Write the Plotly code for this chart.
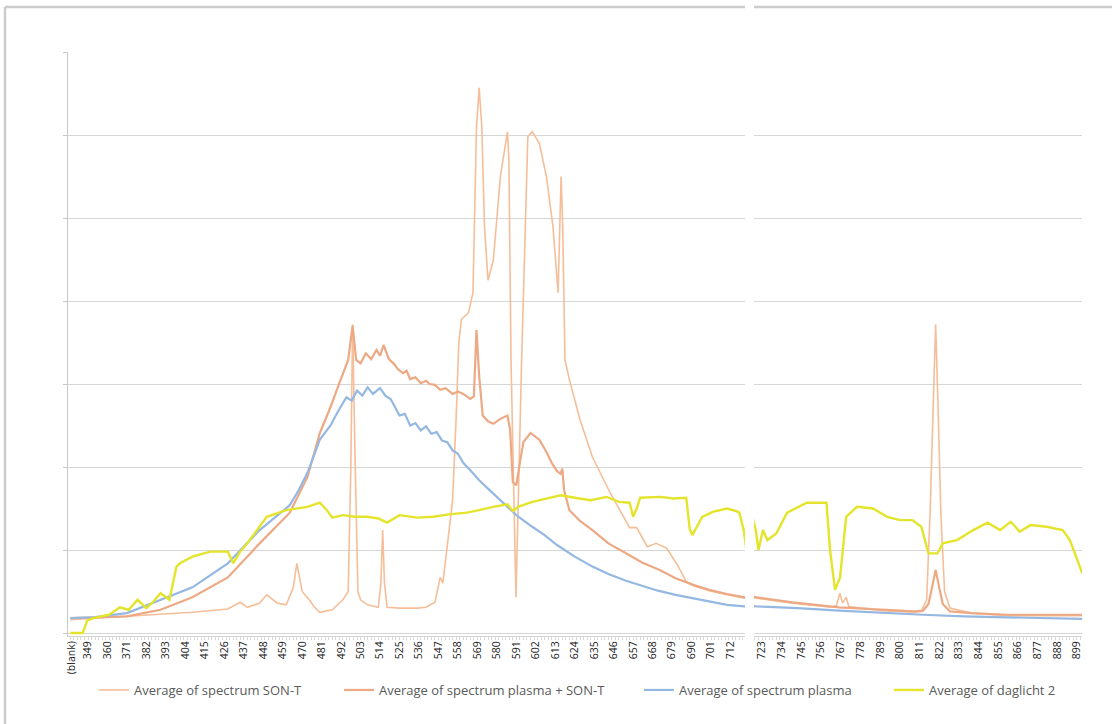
import plotly.graph_objects as go

# ---------------- data ----------------
son_t_wl = [339, 371, 408, 428, 435, 439, 446, 450, 456, 461, 465, 467, 470, 474, 477, 480, 487, 493, 496,
            497.5, 498.5, 500, 501.5, 503, 507, 513, 514.5, 515.5, 516.5, 518, 525, 535, 540, 545, 548, 549.5,
            551, 553, 555, 557, 558.5, 560, 564, 566.5, 568.5, 570, 571.5, 573, 575, 578, 582, 586, 586.8,
            588, 589.5, 590.8, 592, 594, 597.5, 600, 604, 608, 611.7, 614.6, 616.3, 617.2, 618.5, 621, 627,
            634, 644, 653.5, 655, 659, 665, 670, 676, 682, 687, 691, 700, 710, 720, 740, 762, 764.5, 766.5,
            768, 770, 771.5, 790, 808, 812, 815, 817, 819, 820, 821, 823, 825, 828, 840, 860, 880, 902]
son_t_val = [0.16, 0.20, 0.25, 0.29, 0.37, 0.31, 0.36, 0.46, 0.36, 0.34, 0.55, 0.84, 0.50, 0.40, 0.31, 0.25,
             0.28, 0.40, 0.50, 2.0, 3.72, 2.0, 0.50, 0.40, 0.34, 0.31, 0.6, 1.24, 0.6, 0.31, 0.30, 0.30, 0.31,
             0.37, 0.67, 0.60, 0.88, 1.2, 1.6, 2.6, 3.5, 3.78, 3.86, 4.1, 6.1, 6.57, 6.1, 4.9, 4.25, 4.49, 5.5,
             6.04, 5.7, 3.29, 1.5, 0.43, 1.5, 3.29, 5.98, 6.04, 5.9, 5.5, 4.9, 4.1, 5.5, 4.9, 3.29, 3.05, 2.57,
             2.12, 1.69, 1.33, 1.27, 1.27, 1.04, 1.08, 1.02, 0.82, 0.62, 0.57, 0.51, 0.46, 0.42, 0.36, 0.31,
             0.33, 0.48, 0.36, 0.43, 0.32, 0.27, 0.25, 0.26, 0.40, 1.5, 3.0, 3.72, 3.0, 1.4, 0.5, 0.30, 0.24,
             0.21, 0.21, 0.21]

mix_wl = [339, 371, 390, 408, 428, 446, 463, 473, 480, 486, 491, 496, 498.5, 500.5, 503, 506, 509, 512, 514,
          516, 519, 522, 524, 527, 529, 531, 534, 537, 540, 542, 545, 548, 551, 555, 558, 561, 565, 567,
          568.5, 570, 572, 575, 578, 582, 586, 587.5, 589, 591, 593, 595, 599, 604, 608, 611, 614, 616, 617,
          618, 621, 627, 634, 643, 653, 662, 672, 681, 691, 700, 710, 720, 740, 766, 790, 808, 813, 816, 818,
          820, 822, 824, 828, 840, 860, 880, 902]
mix_val = [0.18, 0.20, 0.28, 0.43, 0.67, 1.08, 1.45, 1.88, 2.41, 2.72, 3.01, 3.29, 3.70, 3.29, 3.25, 3.37,
           3.30, 3.41, 3.34, 3.47, 3.30, 3.24, 3.18, 3.13, 3.16, 3.06, 3.08, 3.01, 3.04, 3.00, 2.99, 2.93,
           2.95, 2.88, 2.91, 2.88, 2.82, 2.85, 3.65, 3.10, 2.62, 2.55, 2.52, 2.58, 2.62, 2.45, 1.82, 1.78,
           2.05, 2.30, 2.41, 2.33, 2.18, 2.05, 1.95, 1.92, 1.98, 1.72, 1.48, 1.35, 1.24, 1.08, 0.96, 0.85,
           0.76, 0.66, 0.58, 0.52, 0.47, 0.43, 0.37, 0.31, 0.28, 0.26, 0.27, 0.35, 0.55, 0.76, 0.55, 0.35,
           0.26, 0.24, 0.22, 0.22, 0.22]

plasma_wl = [339, 352, 371, 390, 408, 428, 446, 463, 468, 473, 480, 486, 490, 495, 498, 501, 504, 507, 510,
             514, 517, 520, 523, 525, 528, 531, 534, 537, 540, 543, 546, 549, 552, 555, 558, 561, 565, 570,
             575, 580, 585, 591, 600, 607, 614, 624, 634, 643, 653, 662, 671, 681, 691, 700, 710, 720, 743,
             766, 790, 813, 836, 860, 880, 902]
plasma_val = [0.18, 0.19, 0.24, 0.40, 0.55, 0.84, 1.24, 1.54, 1.72, 1.93, 2.33, 2.50, 2.66, 2.84, 2.80, 2.92,
              2.86, 2.96, 2.88, 2.95, 2.86, 2.82, 2.70, 2.62, 2.64, 2.50, 2.53, 2.44, 2.49, 2.40, 2.42, 2.32,
              2.30, 2.20, 2.16, 2.05, 1.96, 1.84, 1.74, 1.64, 1.55, 1.42, 1.28, 1.18, 1.06, 0.92, 0.80, 0.71,
              0.63, 0.57, 0.51, 0.46, 0.42, 0.38, 0.34, 0.32, 0.30, 0.27, 0.24, 0.22, 0.20, 0.19, 0.18, 0.17]

day_wl = [339, 346, 348.5, 352, 361, 367, 372, 377, 382, 386, 390, 395, 399, 401, 408, 418, 428, 431, 435,
          439, 450, 461, 473, 480, 484, 487, 493, 500, 507, 513, 518, 525, 535, 544, 553, 563, 570, 578, 586,
          589, 592, 600, 608, 616, 624, 633, 642, 649, 655, 657, 659, 661, 672, 680, 687, 689, 690.5, 693,
          696, 702, 710, 715, 717, 719.5, 721, 723.5, 726, 731, 737, 748, 759, 761, 763.8, 766.6, 770, 776,
          785, 793, 800, 807, 812, 816, 821, 824, 832, 841, 849, 856, 862, 867, 873, 882, 891, 895, 902]
day_val = [0.0, 0.0, 0.15, 0.18, 0.22, 0.31, 0.28, 0.40, 0.30, 0.38, 0.48, 0.40, 0.80, 0.84, 0.92, 0.98,
           0.98, 0.84, 0.98, 1.08, 1.40, 1.48, 1.52, 1.57, 1.48, 1.39, 1.42, 1.40, 1.40, 1.38, 1.33, 1.42,
           1.39, 1.40, 1.43, 1.45, 1.48, 1.52, 1.55, 1.47, 1.52, 1.58, 1.62, 1.66, 1.63, 1.60, 1.64, 1.58,
           1.57, 1.40, 1.50, 1.63, 1.64, 1.62, 1.63, 1.25, 1.18, 1.28, 1.40, 1.46, 1.50, 1.47, 1.45, 1.24,
           1.0, 1.24, 1.12, 1.20, 1.45, 1.57, 1.57, 1.0, 0.52, 0.67, 1.40, 1.52, 1.50, 1.40, 1.36, 1.36,
           1.28, 0.96, 0.96, 1.08, 1.12, 1.24, 1.33, 1.24, 1.34, 1.22, 1.30, 1.28, 1.24, 1.12, 0.72]

left_ticks = [339.5] + list(range(349, 713, 11))
left_labels = ["(blank)"] + [str(v) for v in range(349, 713, 11)]
right_ticks = list(range(723, 900, 11))
right_labels = [str(v) for v in right_ticks]

series = [
    ("Average of spectrum SON-T", son_t_wl, son_t_val, "#F5BE98", 1.6, "legend"),
    ("Average of spectrum plasma + SON-T", mix_wl, mix_val, "#EDA983", 2.2, "legend2"),
    ("Average of spectrum plasma", plasma_wl, plasma_val, "#94B8E2", 2.2, "legend3"),
    ("Average of daglicht 2", day_wl, day_val, "#E4E42C", 2.4, "legend4"),
]

# ---------------- figure ----------------
W, H = 1112, 724
L, T = 68, 52            # plot-area left / top (pixels)
PR, PB = 1082, 636       # plot-area right / bottom (pixels)
R, B = W - PR, H - PB
PW, PH = PR - L, PB - T


def px_x(p):
    """picture x pixel -> paper fraction"""
    return (p - L) / PW


def px_y(p):
    """picture y pixel -> paper fraction"""
    return (PB - p) / PH


fig = go.Figure()
for name, wl, val, col, w, lg in series:
    fig.add_trace(go.Scatter(x=wl, y=val, name=name, mode="lines", line=dict(color=col, width=w),
                             xaxis="x", yaxis="y", legend=lg, hoverinfo="skip"))
for name, wl, val, col, w, lg in series:
    fig.add_trace(go.Scatter(x=wl, y=val, name=name, mode="lines", line=dict(color=col, width=w),
                             xaxis="x2", yaxis="y", showlegend=False, hoverinfo="skip"))

axis_common = dict(showgrid=False, showline=True, linecolor="#D4D4D4", linewidth=1,
                   ticks="", tickangle=-90, tickfont=dict(family="Open Sans", size=10.5, color="#222222"),
                   zeroline=False, tickmode="array",
                   minor=dict(ticks="outside", dtick=2, tick0=339, ticklen=3, tickcolor="#D8D8D8"))
fig.update_layout(
    width=W, height=H,
    margin=dict(l=L, r=R, t=T, b=B),
    paper_bgcolor="white", plot_bgcolor="white",
    xaxis=dict(domain=[0, px_x(745)], range=[337.7, 720.2], tickvals=left_ticks, ticktext=left_labels,
               anchor="y", **axis_common),
    xaxis2=dict(domain=[px_x(754), 1], range=[718.5, 901.8], tickvals=right_ticks, ticktext=right_labels,
                anchor="y", **axis_common),
    yaxis=dict(range=[-0.036, 7.0], dtick=1, tick0=0, showgrid=True, gridcolor="#D6D6D6", gridwidth=1.3,
               showline=True, linecolor="#C8C8C8", linewidth=1.3, ticks="outside", ticklen=4,
               tickcolor="#C8C8C8", showticklabels=False, zeroline=False),
    showlegend=True,
)

leg_font = dict(family="Open Sans", size=13, color="#5A5A5A")
leg_y = px_y(690)
for key, start in [("legend", 100), ("legend2", 345), ("legend3", 645), ("legend4", 895)]:
    fig.update_layout({key: dict(orientation="h", x=px_x(start - 6), xanchor="left", y=leg_y,
                                 yanchor="middle", font=leg_font, bgcolor="rgba(0,0,0,0)",
                                 borderwidth=0)})

# chart-area border (top and left edges) and the white seam of the spliced picture
fig.add_shape(type="line", xref="paper", yref="paper", x0=px_x(5), x1=px_x(1112), y0=px_y(7), y1=px_y(7),
              line=dict(color="#CCCCCC", width=2.5))
fig.add_shape(type="line", xref="paper", yref="paper", x0=px_x(5), x1=px_x(5), y0=px_y(7), y1=px_y(724),
              line=dict(color="#CCCCCC", width=2.5))
fig.add_shape(type="rect", xref="paper", yref="paper", x0=px_x(745), x1=px_x(754), y0=px_y(724),
              y1=px_y(0), fillcolor="white", line=dict(width=0), layer="above")

# the page body has a default 8px margin; remove it so the figure sits at the window origin
fig.write_html("out.html", config={"displayModeBar": False},
               post_script="document.body.style.margin='0px';")
